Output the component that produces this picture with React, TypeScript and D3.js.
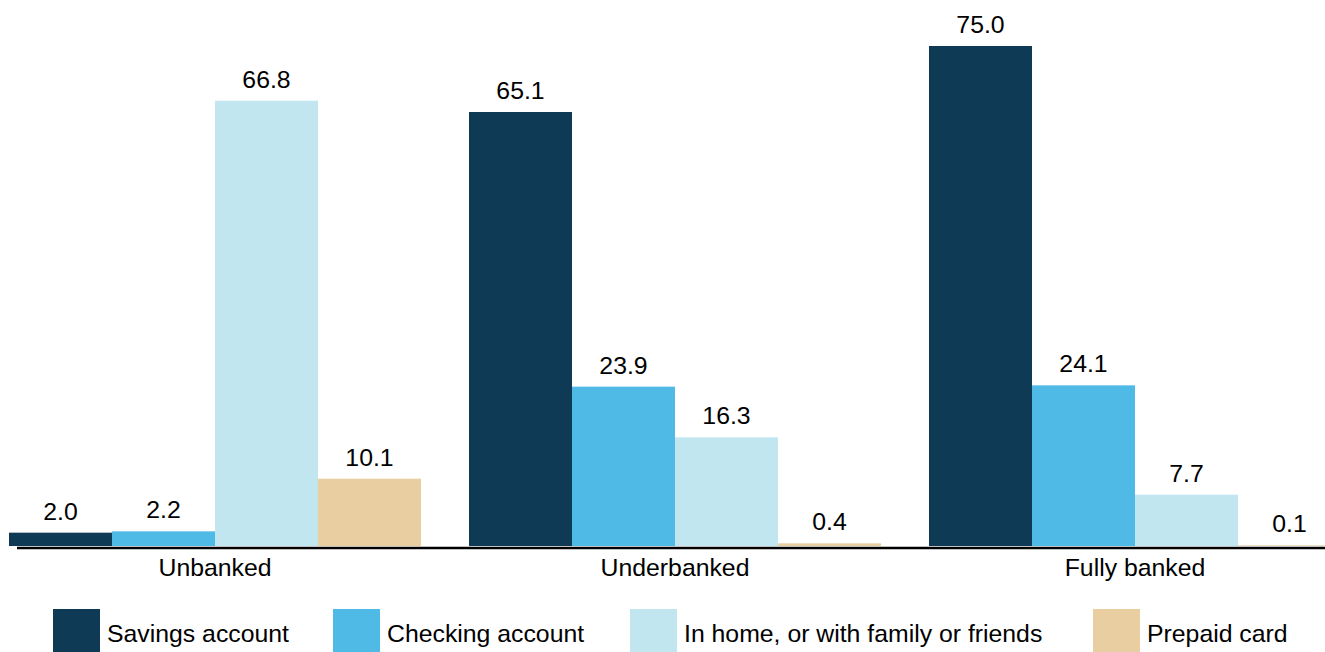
import React from "react";
import * as d3 from "d3";

// Household groups and where they keep savings (percent)
const groups = ["Unbanked", "Underbanked", "Fully banked"];
const seriesNames = [
  "Savings account",
  "Checking account",
  "In home, or with family or friends",
  "Prepaid card",
];
const savingsAccount = [2.0, 65.1, 75.0];
const checkingAccount = [2.2, 23.9, 24.1];
const inHome = [66.8, 16.3, 7.7];
const prepaidCard = [10.1, 0.4, 0.1];

const seriesValues = [savingsAccount, checkingAccount, inHome, prepaidCard];
const seriesColors = ["#0f3a56", "#4fbae6", "#c2e6f0", "#e8cea0"];

const W = 1325;
const H = 652;
const FONT = "'Liberation Sans', Arial, sans-serif";
const FS = 24.8;

// layout
const baseY = 546;
const topY = 46;
const legendX = [53, 333, 630, 1093];

export default function App() {
  const x0 = d3
    .scaleBand<string>()
    .domain(groups)
    .range([9, 1341])
    .paddingInner(48 / 460)
    .paddingOuter(0);
  const x1 = d3
    .scaleBand<string>()
    .domain(seriesNames)
    .range([0, x0.bandwidth()])
    .padding(0);
  const y = d3.scaleLinear().domain([0, 75]).range([baseY, topY]);

  return (
    <svg
      width={W}
      height={H}
      style={{ position: "absolute", left: 0, top: 0, background: "#fff" }}
      fontFamily={FONT}
    >
      <line x1={17} x2={W} y1={baseY + 2} y2={baseY + 2} stroke="#000" strokeWidth={2.5} />
      {groups.map((g, gi) => (
        <g key={g} transform={`translate(${x0(g)},0)`}>
          {seriesNames.map((s, si) => {
            const v = seriesValues[si][gi];
            const bx = x1(s)!;
            const by = y(v);
            return (
              <g key={s}>
                <rect
                  x={bx}
                  y={by}
                  width={x1.bandwidth()}
                  height={baseY - by}
                  fill={seriesColors[si]}
                />
                <text
                  x={bx + x1.bandwidth() / 2}
                  y={by - 13}
                  textAnchor="middle"
                  fontSize={FS}
                  fill="#000"
                >
                  {v.toFixed(1)}
                </text>
              </g>
            );
          })}
          <text
            x={x0.bandwidth() / 2}
            y={576}
            textAnchor="middle"
            fontSize={FS}
            fill="#000"
          >
            {g}
          </text>
        </g>
      ))}
      {seriesNames.map((s, si) => (
        <g key={s} transform={`translate(${legendX[si]},609)`}>
          <rect x={0} y={0} width={47} height={47} fill={seriesColors[si]} />
          <text x={54} y={33} fontSize={FS} fill="#000">
            {s}
          </text>
        </g>
      ))}
    </svg>
  );
}
